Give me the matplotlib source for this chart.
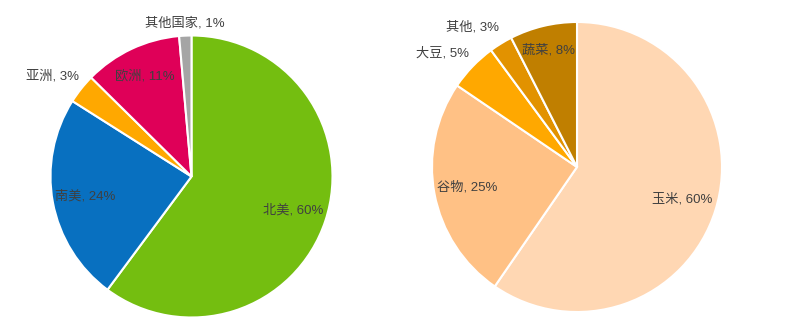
import matplotlib.pyplot as plt
import numpy as np

plt.rcParams['font.family'] = ['Liberation Sans', 'Noto Sans CJK SC', 'DejaVu Sans']

# left pie: regions (share, %)
region_labels = ['北美', '南美', '亚洲', '欧洲', '其他国家']
region_values = [60.1, 23.8, 3.4, 11.2, 1.4]
region_colors = ['#74BE10', '#0870C0', '#FFA800', '#DF0058', '#A5A5A5']

# right pie: crops (share, %)
crop_labels = ['玉米', '谷物', '大豆', '其他', '蔬菜']
crop_values = [59.6, 24.9, 5.4, 2.6, 7.5]
crop_colors = ['#FFD7B3', '#FFC185', '#FFA800', '#E29200', '#C07F00']

W, H = 800, 326
fig = plt.figure(figsize=(W / 100, H / 100), dpi=100)
ax = fig.add_axes([0, 0, 1, 1])


def draw_pie(center, radius, labels, values, colors, dist, nudge):
    wedges, _ = ax.pie(values, colors=colors, startangle=90, counterclock=False,
                       center=center, radius=radius, frame=True,
                       wedgeprops=dict(edgecolor='white', linewidth=1.5))
    for w, lab, v in zip(wedges, labels, values):
        mid = np.deg2rad((w.theta1 + w.theta2) / 2)
        d = dist.get(lab, 0.76)
        x = center[0] + d * radius * np.cos(mid)
        y = center[1] + d * radius * np.sin(mid)
        dx, dy = nudge.get(lab, (0, 0))
        ax.text(x + dx, y + dy, f'{lab}, {v:.0f}%', ha='center', va='center',
                fontsize=9.5, color='#404040')


draw_pie((191.5, H - 176.5), 141, region_labels, region_values, region_colors,
         dist={'南美': 0.77, '欧洲': 0.785, '亚洲': 1.21, '其他国家': 1.09},
         nudge={'亚洲': (-5, -6)})
draw_pie((577, H - 167), 145, crop_labels, crop_values, crop_colors,
         dist={'谷物': 0.77, '蔬菜': 0.83, '大豆': 1.21, '其他': 1.21},
         nudge={'大豆': (-8, -8), '其他': (-12, -10)})

ax.set_xlim(0, W)
ax.set_ylim(0, H)
ax.set_aspect('equal')
ax.set_axis_off()
fig.savefig('out.png', dpi=100)
